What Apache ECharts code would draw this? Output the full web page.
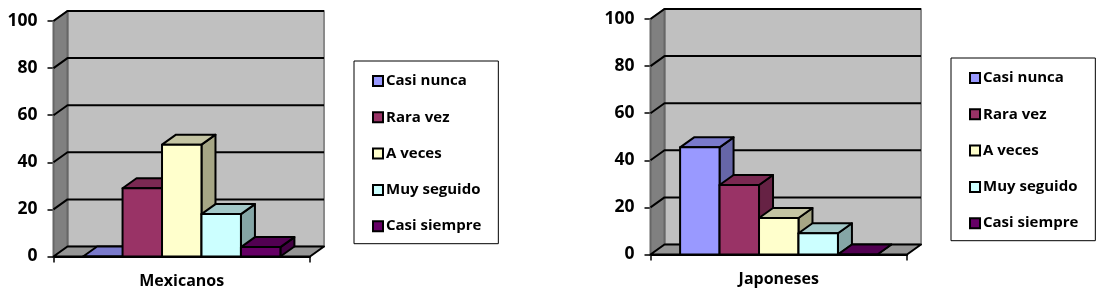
<!DOCTYPE html>
<html>
<head>
<meta charset="utf-8">
<style>html,body{margin:0;padding:0;background:#fff}#c{width:1102px;height:301px}</style>
<script src="https://cdn.jsdelivr.net/npm/echarts@6/dist/echarts.min.js"></script>
</head>
<body>
<div id="c"></div>
<script>
const categories = ['Mexicanos', 'Japoneses'];
const seriesNames = ['Casi nunca', 'Rara vez', 'A veces', 'Muy seguido', 'Casi siempre'];
const casiNunca = [0, 45.5];
const raraVez = [29, 29.5];
const aVeces = [47.5, 15.5];
const muySeguido = [18, 9];
const casiSiempre = [4, 0];
const yTicks = [0, 20, 40, 60, 80, 100];
const colors = ['#9999ff', '#993366', '#ffffcc', '#ccffff', '#660066'];
const topColors = ['#7a7acc', '#7a2952', '#c4c4a3', '#a3c8c8', '#520052'];
const sideColors = ['#6666a8', '#662244', '#a6a685', '#85a6a6', '#430043'];
const values = [casiNunca, raraVez, aVeces, muySeguido, casiSiempre];

const DX = 14, DY = 10, FONT = '"Open Sans"';
const edge = { stroke: '#000', lineWidth: 2, lineJoin: 'round' };

function poly(points, fill, stroke) {
  return { type: 'polygon', shape: { points }, style: { fill, stroke: stroke || '#000', lineWidth: 2, lineJoin: 'round' } };
}

function renderWalls(params) {
  const c = params.coordSys, x0 = c.x, x1 = c.x + c.width, y0 = c.y, y1 = c.y + c.height;
  const s = (x, y) => [x + DX, y - DY];
  return { type: 'group', children: [
    poly([s(x0, y0), s(x1, y0), s(x1, y1), s(x0, y1)], '#c0c0c0', '#8a8a8a'),
    poly([[x0, y0], s(x0, y0), s(x0, y1), [x0, y1]], '#808080', '#666'),
    poly([[x0, y1], s(x0, y1), s(x1, y1), [x1, y1]], '#969696', '#000')
  ]};
}

function renderGridLine(params, api) {
  const c = params.coordSys, x0 = c.x, x1 = c.x + c.width;
  const y = api.coord([0, api.value(1)])[1];
  return { type: 'polyline', shape: { points: [[x0, y], [x0 + DX, y - DY], [x1 + DX, y - DY]] },
    style: { fill: null, ...edge } };
}

function makeBarRenderer(i) {
  return function (params, api) {
    const base = api.coord([api.value(0), 0]);
    const tip = api.coord([api.value(0), api.value(1)]);
    const band = api.size([1, 0])[0];
    const w = band / 6.5;
    const l = base[0] - band / 2 + w * 0.75 + i * w, r = l + w, b = base[1], t = tip[1];
    return { type: 'group', children: [
      poly([[r, b], [r + DX, b - DY], [r + DX, t - DY], [r, t]], sideColors[i]),
      poly([[l, t], [l + DX, t - DY], [r + DX, t - DY], [r, t]], topColors[i]),
      poly([[l, t], [r, t], [r, b], [l, b]], colors[i])
    ]};
  };
}

const grids = [
  { left: 53.5, top: 21, width: 256.5, height: 235.5 },
  { left: 650.5, top: 19, width: 256.5, height: 235.5 }
];

const series = [];
categories.forEach((cat, g) => {
  series.push({ type: 'custom', xAxisIndex: g, yAxisIndex: g, silent: true, z: 1,
    renderItem: renderWalls, data: [[cat, 0]] });
  series.push({ type: 'custom', xAxisIndex: g, yAxisIndex: g, silent: true, z: 2,
    renderItem: renderGridLine, data: yTicks.slice(1).map(v => [cat, v]) });
  seriesNames.forEach((name, i) => {
    series.push({ type: 'custom', name, xAxisIndex: g, yAxisIndex: g, z: 3,
      itemStyle: { color: colors[i] },
      renderItem: makeBarRenderer(i), data: [[cat, values[i][g]]] });
  });
});

const legendBase = {
  orient: 'vertical', data: seriesNames, selectedMode: false, icon: 'rect',
  itemWidth: 10, itemHeight: 10, itemGap: 21.3, backgroundColor: '#fff',
  borderColor: '#000', borderWidth: 1, borderRadius: 0, padding: [12.5, 17, 10, 18],
  itemStyle: { borderColor: '#000', borderWidth: 2 },
  textStyle: { fontFamily: FONT, fontWeight: 'bold', fontSize: 15, color: '#000', lineHeight: 14, padding: [0, 0, 0, -2] }
};

const chart = echarts.init(document.getElementById('c'), null, { renderer: 'canvas' });
chart.setOption({
  animation: false,
  backgroundColor: '#fff',
  grid: grids,
  legend: [
    { ...legendBase, left: 354, top: 61 },
    { ...legendBase, left: 951, top: 58 }
  ],
  xAxis: categories.map((cat, g) => ({
    type: 'category', gridIndex: g, data: [cat], boundaryGap: true,
    axisLine: { onZero: false, lineStyle: { color: '#000', width: 2 } },
    axisTick: { show: true, alignWithLabel: false, length: 6, lineStyle: { color: '#000', width: 1.5 } },
    axisLabel: { fontFamily: FONT, fontWeight: 'bold', fontSize: 16, color: '#000', margin: 17 }
  })),
  yAxis: categories.map((cat, g) => ({
    type: 'value', gridIndex: g, min: 0, max: 100, interval: 20,
    axisLine: { show: true, lineStyle: { color: '#000', width: 2 } },
    axisTick: { show: true, length: 6, lineStyle: { color: '#000', width: 1.5 } },
    splitLine: { show: false },
    axisLabel: { fontFamily: FONT, fontWeight: 'bold', fontSize: 17.5, color: '#000', margin: 16, padding: [2, 0, 0, 0] }
  })),
  series
});
</script>
</body>
</html>
